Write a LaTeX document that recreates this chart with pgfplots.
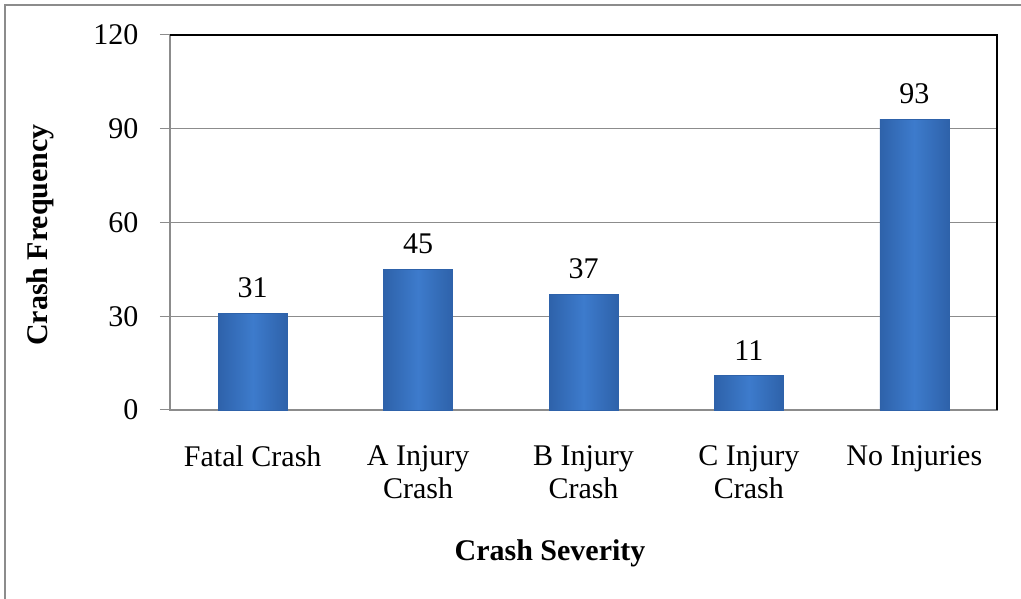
\documentclass[border=0pt]{standalone}
\usepackage{fontspec}
\setmainfont{Liberation Serif}
\usepackage{pgfplots}
\pgfplotsset{compat=1.18}
\definecolor{barMid}{HTML}{3D7BCC}
\definecolor{barEdge}{HTML}{2E62AA}
\definecolor{gridg}{HTML}{8C8C8C}
\begin{document}
\begin{tikzpicture}[x=1pt,y=1pt]
\useasboundingbox (0,0) rectangle (1021,599);
\draw[gridg, line width=1.5pt] (5,0) -- (5,594) -- (1021,594);
\begin{axis}[
  at={(170pt,189pt)}, anchor=south west,
  scale only axis, width=827pt, height=375pt,
  xmin=-0.5, xmax=4.5, ymin=0, ymax=120,
  ytick={0,30,60,90,120},
  xtick={0,1,2,3,4},
  xticklabels={Fatal Crash, A Injury\\Crash, B Injury\\Crash, C Injury\\Crash, No Injuries},
  /pgf/number format/assume math mode=true,
  tick label style={font=\fontsize{30}{33}\selectfont, black},
  xticklabel style={align=center, yshift=-22pt},
  yticklabel style={xshift=-18pt},
  ymajorgrids, grid style={gridg, line width=1pt},
  axis line style={gridg, line width=1.5pt},
  tick align=outside, tick pos=left,
  major tick length=10pt,
  ytick style={gridg, line width=1pt},
  xtick style={draw=none},
  ybar, bar width=69pt, bar shift=0pt,
  nodes near coords,
  every node near coord/.append style={font=\fontsize{30}{33}\selectfont, black, yshift=12pt},
  clip=false,
  after end axis/.code={
    \draw[black, line width=1.5pt] (rel axis cs:0,1) -- (rel axis cs:1,1) -- (rel axis cs:1,0);
  },
]
\addplot[draw=barEdge, line width=0.5pt, left color=barEdge, right color=barEdge, middle color=barMid] coordinates {(0,31)};
\addplot[draw=barEdge, line width=0.5pt, left color=barEdge, right color=barEdge, middle color=barMid] coordinates {(1,45)};
\addplot[draw=barEdge, line width=0.5pt, left color=barEdge, right color=barEdge, middle color=barMid] coordinates {(2,37)};
\addplot[draw=barEdge, line width=0.5pt, left color=barEdge, right color=barEdge, middle color=barMid] coordinates {(3,11)};
\addplot[draw=barEdge, line width=0.5pt, left color=barEdge, right color=barEdge, middle color=barMid] coordinates {(4,93)};
\end{axis}
\node[font=\fontsize{30}{33}\selectfont\bfseries] at (550,46) {Crash Severity};
\node[font=\fontsize{30}{33}\selectfont\bfseries, rotate=90] at (40,364) {Crash Frequency};
\end{tikzpicture}
\end{document}
